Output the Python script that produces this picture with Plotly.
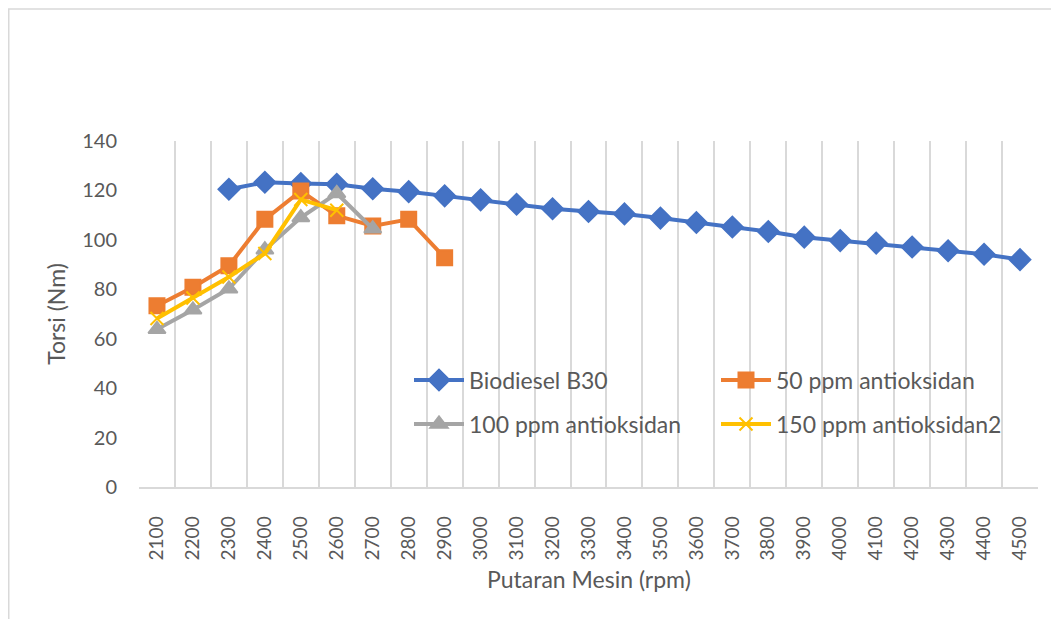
import plotly.graph_objects as go

categories = [str(v) for v in range(2100, 4600, 100)]

biodiesel_b30 = [None, None, 120.5, 123.3, 122.8, 122.5, 120.7, 119.5, 117.8, 116.2,
                 114.4, 112.6, 111.5, 110.5, 108.8, 107.0, 105.2, 103.4, 101.1, 99.7,
                 98.7, 97.1, 95.6, 94.2, 92.0]
ppm50 = [73.3, 80.8, 89.5, 108.3, 119.8, 109.8, 105.6, 108.3, 92.8]
ppm100 = [63.8, 71.7, 80.2, 96.0, 109.0, 118.8, 104.5]
ppm150 = [68.2, 76.5, 85.0, 94.5, 116.3, 112.0]

series = [
    ("Biodiesel B30", biodiesel_b30, "#4472C4", "diamond", 16, "legend"),
    ("50 ppm antioksidan", ppm50, "#ED7D31", "square", 15, "legend2"),
    ("100 ppm antioksidan", ppm100, "#A5A5A5", "triangle-up", 15, "legend3"),
    ("150 ppm antioksidan2", ppm150, "#FFC000", "x-thin-open", 13, "legend4"),
]

FONT = "Lato, Carlito, sans-serif"
GRAY_TXT = "#595959"

fig = go.Figure()
for name, vals, color, symbol, size, leg in series:
    fig.add_trace(go.Scatter(
        x=categories[:len(vals)], y=vals, name=name, mode="lines+markers",
        line=dict(color=color, width=4),
        marker=dict(symbol=symbol, size=size, color=color,
                    line=dict(color=color, width=2)),
        connectgaps=False, legend=leg,
    ))

# The page body adds an 8px margin, so the figure is drawn 8px smaller
W, H = 1051, 611
PL, PR, PT, PB = 131, 1030, 133, 479
def px_x(p):
    return (p - PL) / (PR - PL)
def px_y(p):
    return (PB - p) / (PB - PT)

def leg(xp, yp):
    return dict(x=px_x(xp), y=px_y(yp), xanchor="left", yanchor="middle",
                orientation="v", itemwidth=50,
                font=dict(family=FONT, size=23, color=GRAY_TXT),
                bgcolor="rgba(255,255,255,0)", borderwidth=0)

fig.update_layout(
    width=W, height=H,
    margin=dict(l=PL, r=W - PR, t=PT, b=H - PB),
    paper_bgcolor="white", plot_bgcolor="white",
    font=dict(family=FONT, color=GRAY_TXT, size=20),
    showlegend=True,
    legend=leg(401, 372),
    legend2=leg(708, 372),
    legend3=leg(401, 416),
    legend4=leg(708, 416),
    xaxis=dict(
        type="category", categoryorder="array", categoryarray=categories,
        range=[-0.5, len(categories) - 0.5],
        tickson="boundaries", showgrid=True, gridcolor="#D9D9D9", gridwidth=1.5,
        showline=True, linecolor="#D9D9D9", linewidth=1.5,
        ticks="", ticklabelstandoff=20,
        tickangle=-90, tickfont=dict(size=19, color=GRAY_TXT),
        zeroline=False, automargin=False,
    ),
    yaxis=dict(
        range=[0, 140], dtick=20, showgrid=False, zeroline=False,
        showline=False, ticks="outside", ticklen=17, tickcolor="rgba(0,0,0,0)",
        tickfont=dict(size=20, color=GRAY_TXT),
        title=dict(text="Torsi (Nm)", font=dict(size=23, color=GRAY_TXT), standoff=10),
        automargin=False,
    ),
    annotations=[dict(text="Putaran Mesin (rpm)", xref="paper", yref="paper",
                      x=0.5, y=px_y(571), xanchor="center", yanchor="middle",
                      showarrow=False, font=dict(family=FONT, size=23, color=GRAY_TXT))],
    shapes=[dict(type="rect", xref="paper", yref="paper",
                 x0=px_x(0.75), x1=1.2, y0=-0.6, y1=px_y(1),
                 line=dict(color="#D9D9D9", width=1.5), fillcolor="rgba(0,0,0,0)",
                 layer="below")],
)

fig.write_html("out.html")
